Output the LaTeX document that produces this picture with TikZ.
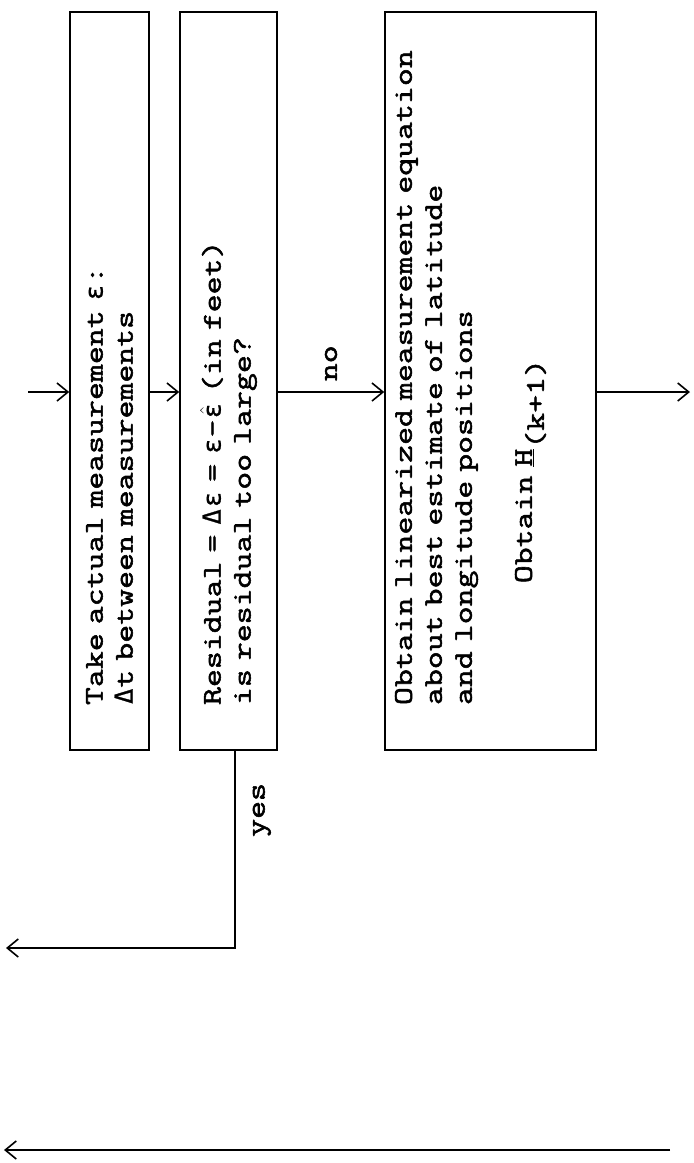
\documentclass[tikz,border=0pt]{standalone}
\usepackage{fontspec}
\usetikzlibrary{arrows.meta,calc}
\newfontfamily\typew{Latin Modern Mono}[FakeStretch=1.29,FakeBold=2]
\newfontfamily\grk{DejaVu Sans Mono}[Scale=0.92,FakeBold=1]
\newlength{\cellw}\setlength{\cellw}{17.4pt}
% one typewriter cell holding a Greek glyph
\newcommand{\gk}[1]{\makebox[\cellw]{\grk #1}}
\newcommand{\typesize}{\typew\fontsize{27}{30}\selectfont
  \fontdimen2\font=\cellw \fontdimen3\font=0pt \fontdimen4\font=0pt }
\begin{document}
\begin{tikzpicture}[x=1pt, y=-1pt,
  tw/.style={font=\typesize},
  box/.style={tw, draw, line width=1.5pt, rotate=90, minimum width=738pt, inner xsep=45pt, text width=648pt, align=left},
  arr/.style={line width=1.6pt, -{Straight Barb[length=11pt,width=18pt]}},
  lbl/.style={tw, rotate=90}]
\useasboundingbox (0,0) rectangle (694,1163);
% boxes
\node[box, minimum height=79pt] (take) at (109.5,381) {Take actual measurement \gk{ε}:\\ \gk{Δ}t between measurements};
\node[box, minimum height=97pt] (resid) at (228.5,381) {Residual = \gk{Δ}\gk{ε} = \gk{ε}-\gk{$\hat{\mbox{ε}}$} (in feet)\\ is residual too large?};
\node[box, minimum height=211pt, inner ysep=10pt, inner xsep=22.5pt, text width=693pt] (obtain) at (490.5,381) {\parbox[c][191pt][t]{693pt}{\leftskip=22.5pt
  Obtain linearized measurement equation\\
  about best estimate of latitude\\
  and longitude positions\\[30pt]
  \hspace*{7\cellw}Obtain \underline{H}\raisebox{-12pt}{(k+1)}}};
% connectors
\coordinate (lvl) at (0,392);
\coordinate (start) at (28,392);
\coordinate (out) at (690,392);
\coordinate (ytop) at ($(resid.west)+(6.5,0)$);
\coordinate (yesend) at (6,948);
\coordinate (ret_r) at (670,1150);
\coordinate (ret_l) at (4,1150);
\draw[arr] (start) -- (take.north |- lvl);
\draw[arr] (take.south |- lvl) -- (resid.north |- lvl);
\draw[arr] (resid.south |- lvl) -- node[lbl, midway, anchor=west, inner sep=10pt] (nolbl) {no} (obtain.north |- lvl);
\draw[arr] (obtain.south |- lvl) -- (out);
\draw[arr] (ytop) |- node[lbl, pos=0.15, anchor=north, inner sep=17pt] (yeslbl) {yes} (yesend);
\draw[arr] (ret_r) -- (ret_l);
\end{tikzpicture}
\end{document}
